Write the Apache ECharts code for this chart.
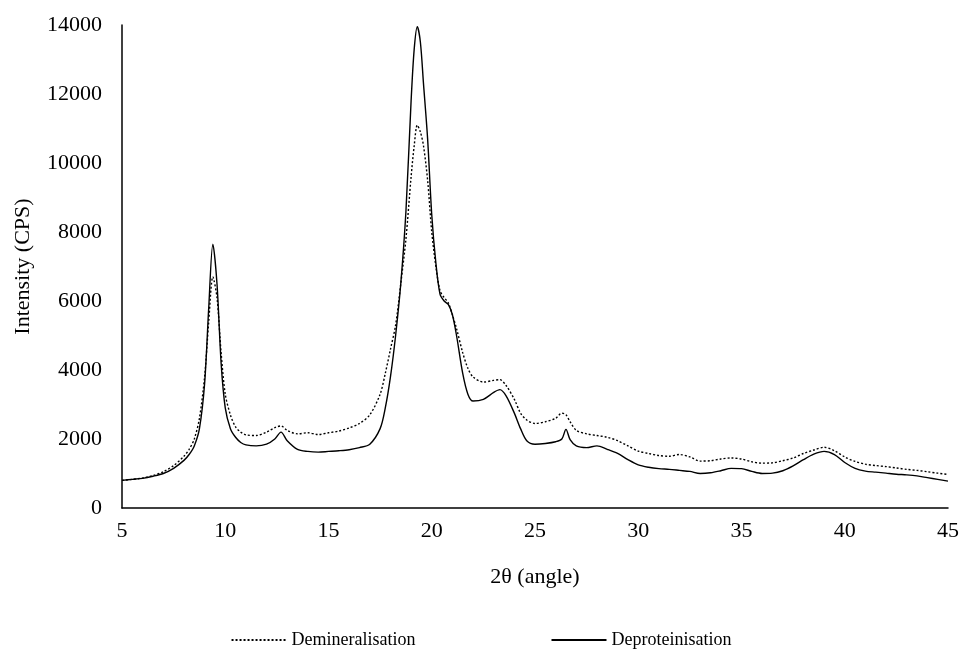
<!DOCTYPE html>
<html>
<head>
<meta charset="utf-8">
<script src="https://cdn.jsdelivr.net/npm/echarts@6/dist/echarts.min.js"></script>
<style>
  html, body { margin: 0; padding: 0; background: #fff; }
  #chart { width: 962px; height: 651px; }
</style>
</head>
<body>
<div id="chart"></div>
<script>
// Diffraction angle (2θ, degrees) sampled for both scans
const angle = [
  5, 5.5, 6, 6.5, 7, 7.5, 8, 8.25, 8.5, 8.75, 9, 9.2, 9.4, 9.6, 9.8, 10, 10.25, 10.5, 10.75, 11,
  11.5, 12, 12.4, 12.7, 13, 13.5, 14, 14.5, 15, 15.5, 16, 16.5, 17, 17.5, 17.75, 18, 18.25, 18.5, 18.75, 19,
  19.15, 19.3, 19.45, 19.6, 19.8, 20, 20.2, 20.4, 20.6, 20.8, 21, 21.2, 21.5, 21.75, 22, 22.5, 23, 23.3, 23.6, 24,
  24.3, 24.6, 25, 25.5, 26, 26.3, 26.5, 26.7, 27, 27.5, 28, 28.5, 29, 29.5, 30, 30.5, 31, 31.5, 32, 32.5,
  33, 33.5, 34, 34.5, 35, 35.5, 36, 36.5, 37, 37.5, 38, 38.5, 39, 39.5, 40, 40.5, 41, 41.5, 42, 42.5,
  43, 43.5, 44, 44.5, 45
];

// Intensity (CPS) after demineralisation
const demineralisation = [
  800, 830, 870, 940, 1050, 1230, 1500, 1700, 2000, 2600, 3800, 5400, 6700, 6100, 4500, 3300, 2700, 2350, 2200, 2120,
  2100, 2200, 2330, 2380, 2250, 2150, 2180, 2130, 2180, 2230, 2320, 2450, 2700, 3300, 3900, 4600, 5300, 6500, 7800, 9600,
  10500, 11100, 10900, 10500, 9500, 8000, 7000, 6300, 6100, 5950, 5600, 5200, 4500, 4050, 3800, 3650, 3700, 3720, 3550, 3150,
  2750, 2550, 2450, 2500, 2600, 2750, 2700, 2500, 2250, 2150, 2100, 2050, 1950, 1800, 1650, 1580, 1520, 1500, 1550, 1480,
  1360, 1370, 1420, 1450, 1420, 1340, 1300, 1310, 1370, 1450, 1580, 1680, 1760, 1660, 1480, 1350, 1270, 1230, 1200, 1160,
  1120, 1090, 1050, 1010, 970
];

// Intensity (CPS) after deproteinisation
const deproteinisation = [
  800, 830, 860, 920, 1000, 1150, 1380, 1550, 1800, 2300, 3600, 5800, 7650, 6500, 4200, 2900, 2300, 2050, 1900, 1830,
  1800, 1850, 2000, 2200, 1950, 1700, 1640, 1620, 1640, 1660, 1690, 1750, 1850, 2300, 2900, 3800, 5000, 6500, 8600, 11800,
  13300, 13950, 13500, 12300, 10700, 8500, 7100, 6200, 6000, 5900, 5600, 5000, 3900, 3300, 3100, 3150, 3350, 3430, 3250, 2750,
  2300, 1950, 1850, 1870, 1920, 2000, 2280, 1980, 1800, 1750, 1800, 1700, 1580, 1400, 1250, 1180, 1140, 1120, 1090, 1060,
  1000, 1020, 1080, 1150, 1140, 1060, 1000, 1010, 1080, 1220, 1400, 1560, 1640, 1550, 1320, 1150, 1070, 1040, 1010, 980,
  960, 930, 880, 830, 780
];

const seriesNames = ['Demineralisation', 'Deproteinisation'];
const xTitle = '2θ (angle)';
const yTitle = 'Intensity (CPS)';

const pairs = (ys) => angle.map((a, i) => [a, ys[i]]);
const serif = '"Liberation Serif", "Times New Roman", serif';

const chart = echarts.init(document.getElementById('chart'));
chart.setOption({
  animation: false,
  backgroundColor: '#ffffff',
  grid: { left: 122, right: 14, top: 25, bottom: 143, containLabel: false, outerBoundsMode: 'none' },
  legend: {
    top: 626,
    left: 'center',
    itemWidth: 55,
    itemHeight: 18,
    itemGap: 135,
    itemStyle: { opacity: 0 },
    textStyle: { fontFamily: serif, fontSize: 18, color: '#000' },
    data: seriesNames
  },
  xAxis: {
    type: 'value',
    min: 5, max: 45, interval: 5,
    name: xTitle,
    nameLocation: 'middle',
    nameGap: 58,
    nameTextStyle: { fontFamily: serif, fontSize: 22, color: '#000' },
    axisLine: { lineStyle: { color: '#000', width: 1.5 } },
    axisTick: { show: false },
    splitLine: { show: false },
    axisLabel: { fontFamily: serif, fontSize: 22, color: '#000', margin: 12 }
  },
  yAxis: {
    type: 'value',
    min: 0, max: 14000, interval: 2000,
    name: yTitle,
    nameLocation: 'middle',
    nameGap: 88,
    nameTextStyle: { fontFamily: serif, fontSize: 22, color: '#000' },
    axisLine: { show: true, lineStyle: { color: '#000', width: 1.5 } },
    axisTick: { show: false },
    splitLine: { show: false },
    axisLabel: { fontFamily: serif, fontSize: 22, color: '#000', margin: 20, formatter: (v) => String(v) }
  },
  series: [
    {
      name: seriesNames[0],
      type: 'line',
      data: pairs(demineralisation),
      showSymbol: false,
      symbol: 'none',
      smooth: 0.3,
      lineStyle: { color: '#000', width: 1.4, type: [2, 2] },
      itemStyle: { color: '#000' }
    },
    {
      name: seriesNames[1],
      type: 'line',
      data: pairs(deproteinisation),
      showSymbol: false,
      symbol: 'none',
      smooth: 0.3,
      lineStyle: { color: '#000', width: 1.4, type: 'solid' },
      itemStyle: { color: '#000' }
    }
  ]
});
</script>
</body>
</html>
